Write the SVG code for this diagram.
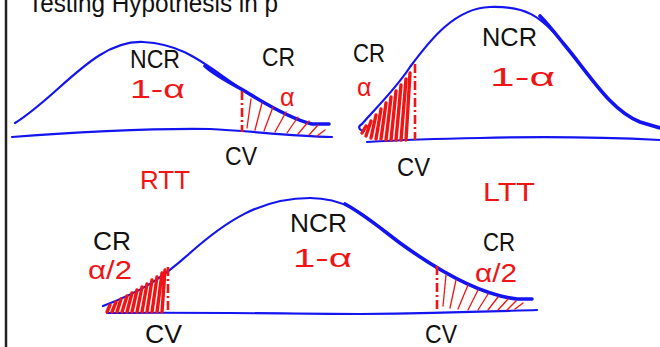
<svg xmlns="http://www.w3.org/2000/svg" width="660" height="347" viewBox="0 0 660 347">
<style>
.curve{fill:none;stroke:#1414f0;stroke-width:2.2;stroke-linecap:round;stroke-linejoin:round}
.thick{fill:none;stroke:#1414f0;stroke-width:3.6;stroke-linecap:round}
.cv{fill:none;stroke:#f01414;stroke-width:2.6;stroke-dasharray:9 3 2 3}
.hatch{fill:none;stroke:#f01414;stroke-width:1.3;stroke-linecap:round}
.dense{fill:none;stroke:#f01414;stroke-width:3.4;stroke-linecap:round}
.lbl{font-family:"Liberation Sans","DejaVu Sans",sans-serif;font-size:25px;fill:#111}
.red{font-family:"Liberation Sans","DejaVu Sans",sans-serif;font-size:25px;fill:#f01414}
</style>
<rect width="660" height="347" fill="#fff"/>
<line x1="6" y1="0" x2="6" y2="347" stroke="#222" stroke-width="2.5"/>
<text class="lbl" x="28" y="12" font-size="28" textLength="250" lengthAdjust="spacingAndGlyphs">Testing Hypothesis in p</text>

<g id="rtt">
<path class="curve" d="M15,123 C60,95 95,40 143,42 C185,44 205,65 243,90 C275,110 295,120 312,124 L329,124"/>
<path class="thick" d="M205,66 C215,75 228,82 243,90 C275,110 295,120 312,124 L329,124"/>
<path class="curve" d="M12,137 C60,133 150,128 210,129 C250,131 290,136 332,137"/>
<line class="cv" x1="242" y1="91" x2="242" y2="132"/>
<path class="hatch" d="M247,128 L251,99 M255,130 L262,103 M264,131 L273,107 M275,132 L286,112 M287,133 L298,117 M298,134 L309,121 M309,135 L318,125 M317,136 L325,130"/>
<text class="lbl" x="130" y="68" textLength="50" lengthAdjust="spacingAndGlyphs">NCR</text>
<text class="lbl" x="262" y="66" font-size="28" textLength="33" lengthAdjust="spacingAndGlyphs">CR</text>
<text class="red" x="130" y="98" textLength="55" lengthAdjust="spacingAndGlyphs">1-α</text>
<text class="red" x="280" y="106">α</text>
<text class="lbl" x="225" y="165" textLength="32" lengthAdjust="spacingAndGlyphs">CV</text>
<text class="red" x="140" y="189" font-size="36" textLength="50" lengthAdjust="spacingAndGlyphs">RTT</text>
</g>

<g id="ltt">
<path class="curve" d="M364,131 C358,130 358,126 362,124 C372,112 395,90 410,67 C430,40 455,8 490,7 C525,6 540,15 563,43 C590,75 610,110 640,122 L660,128"/>
<path class="thick" d="M540,16 C548,24 555,33 563,43 C590,75 610,110 640,122 L660,128"/>
<path class="curve" d="M367,142 C400,140 420,139 480,138 C560,136 620,138 660,140"/>
<line class="cv" x1="415" y1="64" x2="415" y2="140"/>
<path class="dense" d="M362,133 L366,126 M366,136 L371,121 M371,138 L376,115 M376,139 L381,109 M381,139 L386,103 M386,140 L391,97 M391,140 L396,91 M396,140 L401,85 M401,140 L406,79 M406,140 L410,73"/>
<text class="lbl" x="353" y="62" font-size="28" textLength="32" lengthAdjust="spacingAndGlyphs">CR</text>
<text class="red" x="357" y="96">α</text>
<text class="lbl" x="482" y="46" textLength="55" lengthAdjust="spacingAndGlyphs">NCR</text>
<text class="red" x="490" y="86" textLength="65" lengthAdjust="spacingAndGlyphs">1-α</text>
<text class="lbl" x="397" y="176" textLength="33" lengthAdjust="spacingAndGlyphs">CV</text>
<text class="red" x="483" y="201" font-size="36" textLength="52" lengthAdjust="spacingAndGlyphs">LTT</text>
</g>

<g id="two-tailed">
<path class="curve" d="M103,306 C140,292 160,280 190,253 C225,222 260,198 310,198 C350,198 370,220 400,243 C440,272 480,295 517,299 L532,299"/>
<path class="thick" d="M345,204 C365,215 380,228 400,243 C440,272 480,295 517,299 L532,299"/>
<path class="curve" d="M107,313 C200,312 300,314 360,314 C450,313 500,311 537,310"/>
<line class="cv" x1="168" y1="267" x2="168" y2="313"/>
<line class="cv" x1="437" y1="266" x2="437" y2="311"/>
<path class="dense" d="M107,312 L110,305 M112,312 L116,302 M117,312 L121,299 M122,312 L127,296 M127,312 L132,293 M132,312 L137,290 M137,312 L142,287 M142,312 L147,284 M147,312 L152,280 M152,312 L157,277 M157,312 L162,273 M162,312 L165,270"/>
<path class="hatch" d="M443,306 L446,275 M450,308 L456,280 M458,309 L468,285 M468,310 L478,290 M478,310 L488,294 M488,310 L498,297 M498,310 L508,299 M507,310 L516,301 M515,309 L523,303"/>
<text class="lbl" x="93" y="250" font-size="27" textLength="38" lengthAdjust="spacingAndGlyphs">CR</text>
<text class="red" x="88" y="279" textLength="44" lengthAdjust="spacingAndGlyphs">α/2</text>
<text class="lbl" x="145" y="343" textLength="37" lengthAdjust="spacingAndGlyphs">CV</text>
<text class="lbl" x="290" y="232" textLength="57" lengthAdjust="spacingAndGlyphs">NCR</text>
<text class="red" x="293" y="267" textLength="59" lengthAdjust="spacingAndGlyphs">1-α</text>
<text class="lbl" x="483" y="251" font-size="27" textLength="32" lengthAdjust="spacingAndGlyphs">CR</text>
<text class="red" x="475" y="282" textLength="42" lengthAdjust="spacingAndGlyphs">α/2</text>
<text class="lbl" x="425" y="343" textLength="32" lengthAdjust="spacingAndGlyphs">CV</text>
</g>
</svg>
